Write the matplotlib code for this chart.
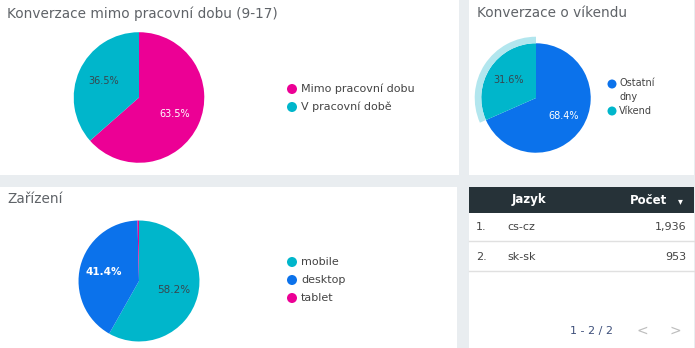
import matplotlib
matplotlib.use("Agg")
import matplotlib.pyplot as plt
from matplotlib.patches import Rectangle, Circle, Wedge

plt.rcParams['font.family'] = ['DejaVu Sans']

# data
hours_labels = ['Mimo pracovní dobu', 'V pracovní době']
hours_values = [63.5, 36.5]
weekend_labels = ['Ostatní\ndny', 'Víkend']
weekend_values = [68.4, 31.6]
device_labels = ['mobile', 'desktop', 'tablet']
device_values = [58.2, 41.4, 0.4]
lang_names = ['cs-cz', 'sk-sk']
lang_counts = ['1,936', '953']

PINK = '#ec0095'
CYAN = '#00b6cb'
BLUE = '#0b72eb'
DARK = '#263238'
TITLE_C = '#5f6368'
TEXT_C = '#444444'

W, H = 695, 348
fig = plt.figure(figsize=(W / 100, H / 100), dpi=100)
fig.patch.set_facecolor('#e9edf0')

# background axes in pixel coords
bg = fig.add_axes([0, 0, 1, 1])
bg.set_xlim(0, W)
bg.set_ylim(H, 0)
bg.axis('off')

for (x0, y0, x1, y1) in [(0, 0, 459, 175), (469, 0, 694, 175),
                         (0, 187, 457, 348), (469, 187, 694, 348)]:
    bg.add_patch(Rectangle((x0, y0), x1 - x0, y1 - y0, color='white', lw=0))

# titles
bg.text(7, 14, 'Konverzace mimo pracovní dobu (9-17)', fontsize=9.8, color=TITLE_C, va='center')
bg.text(477, 13, 'Konverzace o víkendu', fontsize=9.8, color=TITLE_C, va='center')
bg.text(7, 199, 'Zařízení', fontsize=9.8, color=TITLE_C, va='center')


def pie_axes(cx, cy, r):
    s = r * 1.2
    ax = fig.add_axes([(cx - s) / W, 1 - (cy + s) / H, 2 * s / W, 2 * s / H])
    ax.set_xlim(-1.2, 1.2)
    ax.set_ylim(-1.2, 1.2)
    ax.set_aspect('equal')
    ax.axis('off')
    return ax


def draw_pie(ax, values, colors, txt_colors, weights, fs=7):
    wedges, texts, autotexts = ax.pie(values, colors=colors, startangle=90, counterclock=False,
                                      autopct='%.1f%%', pctdistance=0.6,
                                      wedgeprops=dict(linewidth=0))
    for t, c, w in zip(autotexts, txt_colors, weights):
        t.set_color(c)
        t.set_fontsize(fs)
        t.set_fontweight(w)
    return wedges, autotexts


def legend(x, ys, labels, colors, fs=8):
    for y, lab, col in zip(ys, labels, colors):
        bg.add_patch(Circle((x, y), 5, color=col, lw=0))
        bg.text(x + 9, y, lab, fontsize=fs, color=TEXT_C, va='center', linespacing=1.5)


# pie 1
ax1 = pie_axes(139, 97.5, 68)
draw_pie(ax1, hours_values, [PINK, CYAN], ['white', '#37474f'], ['medium', 'normal'])
legend(292, [89, 107], hours_labels, [PINK, CYAN])

# pie 2 (with hover ring on weekend slice)
ax2 = pie_axes(536, 98, 57)
w2, at2 = draw_pie(ax2, weekend_values, [BLUE, CYAN], ['white', '#37474f'], ['medium', 'normal'])
ring = Wedge((0, 0), 1.12, w2[1].theta1, w2[1].theta2, width=0.12, color='#b2e6ee', lw=0)
ax2.add_patch(ring)
bg.add_patch(Circle((612, 84), 4.5, color=BLUE, lw=0))
bg.text(619, 90, weekend_labels[0], fontsize=7, color=TEXT_C, va='center', linespacing=1.6)
bg.add_patch(Circle((612, 111), 4.5, color=CYAN, lw=0))
bg.text(619, 111, weekend_labels[1], fontsize=7, color=TEXT_C, va='center')

# pie 3
ax3 = pie_axes(139, 281, 63)
w3, at3 = draw_pie(ax3, device_values, [CYAN, BLUE, PINK], ['#37474f', 'white', 'white'],
                   ['normal', 'bold', 'normal'], fs=7.5)
at3[2].set_visible(False)
legend(292, [262, 280, 298], device_labels, [CYAN, BLUE, PINK])

# table
bg.add_patch(Rectangle((469, 187), 225, 26, color=DARK, lw=0))
bg.text(512, 200, 'Jazyk', fontsize=8.5, color='white', fontweight='bold', va='center')
bg.text(667, 200, 'Počet', fontsize=8.5, color='white', fontweight='bold', va='center', ha='right')
bg.text(680, 201, '▾', fontsize=7, color='white', va='center', ha='center')
row_y = [227, 257]
for i, (name, cnt) in enumerate(zip(lang_names, lang_counts)):
    y = row_y[i]
    bg.text(476, y, f'{i + 1}.', fontsize=8, color=TEXT_C, va='center')
    bg.text(507, y, name, fontsize=8, color=TEXT_C, va='center')
    bg.text(686, y, cnt, fontsize=8, color=TEXT_C, va='center', ha='right')
    bg.plot([469, 694], [y + 14, y + 14], color='#e0e0e0', lw=1)
bg.text(591, 331, '1 - 2 / 2', fontsize=8, color='#3d4f7a', va='center', ha='center')
bg.text(642, 331, '<', fontsize=10, color='#bdbdbd', va='center', ha='center')
bg.text(675, 331, '>', fontsize=10, color='#bdbdbd', va='center', ha='center')

fig.savefig('out.png', dpi=100, facecolor=fig.get_facecolor())
